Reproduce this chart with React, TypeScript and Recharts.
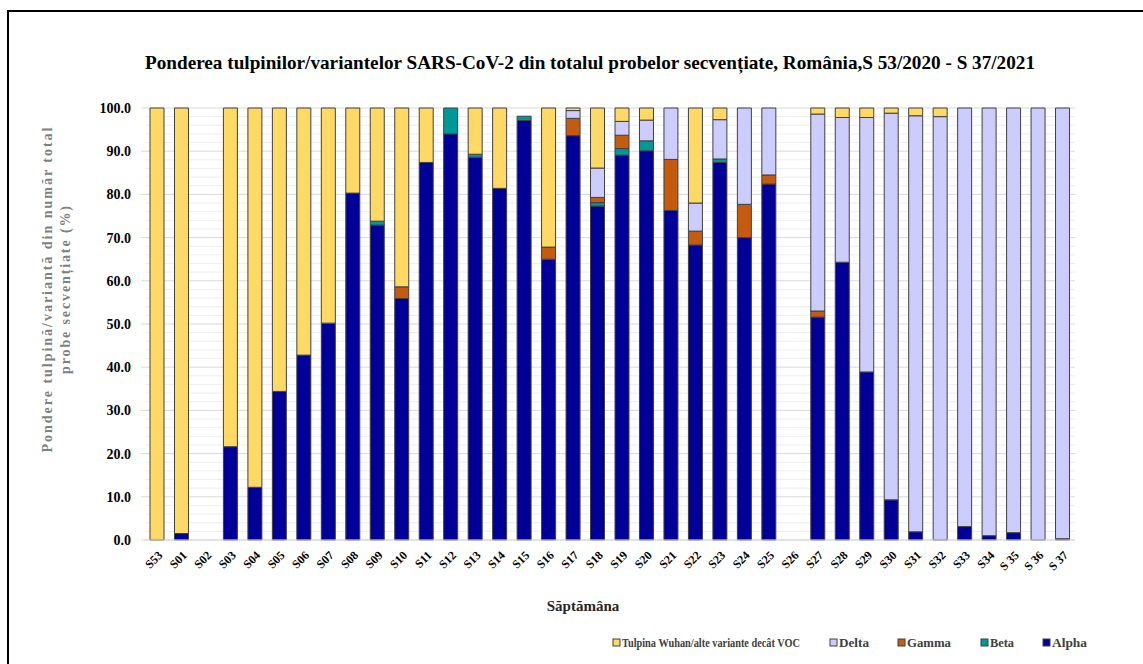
import React from 'react';
import { BarChart, Bar, XAxis, YAxis, CartesianGrid } from 'recharts';

const weeks = [
  'S53', 'S01', 'S02', 'S03', 'S04', 'S05', 'S06', 'S07', 'S08', 'S09',
  'S10', 'S11', 'S12', 'S13', 'S14', 'S15', 'S16', 'S17', 'S18', 'S19',
  'S20', 'S21', 'S22', 'S23', 'S24', 'S25', 'S26', 'S27', 'S28', 'S29',
  'S30', 'S31', 'S32', 'S33', 'S34', 'S 35', 'S 36', 'S 37',
];

const alpha = [
  0, 1.5, 0, 21.6, 12.2, 34.4, 42.8, 50.2, 80.3, 72.9,
  55.9, 87.4, 94.0, 88.6, 81.4, 97.1, 65.0, 93.6, 77.3, 89.1,
  90.1, 76.3, 68.3, 87.4, 70.0, 82.4, 0, 51.6, 64.3, 38.9,
  9.3, 1.9, 0, 3.1, 1.0, 1.7, 0, 0.3,
];
const beta = [
  0, 0, 0, 0, 0, 0, 0, 0, 0, 0.9,
  0, 0, 6.0, 0.7, 0, 1.0, 0, 0, 0.8, 1.5,
  2.3, 0, 0, 0.8, 0, 0, 0, 0, 0, 0,
  0, 0, 0, 0, 0, 0, 0, 0,
];
const gamma = [
  0, 0, 0, 0, 0, 0, 0, 0, 0, 0,
  2.7, 0, 0, 0, 0, 0, 2.8, 4.0, 1.2, 3.1,
  0, 11.8, 3.2, 0, 7.7, 2.1, 0, 1.4, 0, 0,
  0, 0, 0, 0, 0, 0, 0, 0,
];
const delta = [
  0, 0, 0, 0, 0, 0, 0, 0, 0, 0,
  0, 0, 0, 0, 0, 0, 0, 1.8, 6.8, 3.2,
  4.8, 11.9, 6.5, 9.1, 22.3, 15.5, 0, 45.6, 33.5, 58.9,
  89.5, 96.3, 98.0, 96.9, 99.0, 98.3, 100, 99.7,
];
const wuhan = [
  100, 98.5, 0, 78.4, 87.8, 65.6, 57.2, 49.8, 19.7, 26.2,
  41.4, 12.6, 0, 10.7, 18.6, 0, 32.2, 0.6, 13.9, 3.1,
  2.8, 0, 22.0, 2.7, 0, 0, 0, 1.4, 2.2, 2.2,
  1.2, 1.8, 2.0, 0, 0, 0, 0, 0,
];

const yTicks = [0, 10, 20, 30, 40, 50, 60, 70, 80, 90, 100];
const minorTicks = [
  2, 4, 6, 8, 12, 14, 16, 18, 22, 24, 26, 28, 32, 34, 36, 38, 42, 44, 46, 48,
  52, 54, 56, 58, 62, 64, 66, 68, 72, 74, 76, 78, 82, 84, 86, 88, 92, 94, 96, 98,
];

const series = [
  { key: 'alpha', name: 'Alpha', color: '#000099' },
  { key: 'beta', name: 'Beta', color: '#009999' },
  { key: 'gamma', name: 'Gamma', color: '#C55A11' },
  { key: 'delta', name: 'Delta', color: '#CCCCFF' },
  { key: 'wuhan', name: 'Tulpina Wuhan/alte variante decât VOC', color: '#FFD966' },
];

const data = weeks.map((week, i) => ({
  week,
  alpha: alpha[i],
  beta: beta[i],
  gamma: gamma[i],
  delta: delta[i],
  wuhan: wuhan[i],
}));

const serif = '"Liberation Serif", "Times New Roman", serif';

// legend, in the order the reference shows it (square x, text width)
const legendItems = [
  { key: 'wuhan', left: 613, textWidth: 178 },
  { key: 'delta', left: 830, textWidth: 30 },
  { key: 'gamma', left: 898, textWidth: 44 },
  { key: 'beta', left: 981, textWidth: 24 },
  { key: 'alpha', left: 1043, textWidth: 35 },
];

// week labels, slanted up to the right like the original
function WeekTick(props: any) {
  const { x, y, payload } = props;
  const ax = x + 6;
  const ay = y + 16;
  return (
    <text
      x={ax}
      y={ay}
      textAnchor="end"
      fontFamily={serif}
      fontWeight="bold"
      fontSize={12}
      fill="#000"
      transform={`rotate(-45 ${ax} ${ay})`}
      style={{ transform: 'rotate(-45deg)', transformOrigin: `${ax}px ${ay}px`, transformBox: 'view-box' }}
    >
      {payload.value}
    </text>
  );
}

const gridFrom = (values: number[]) => (args: any) => {
  const { yAxis, offset } = args;
  if (yAxis && typeof yAxis.scale === 'function') {
    return values.map((v) => yAxis.scale(v));
  }
  return values.map((v) => offset.top + offset.height * (1 - v / 100));
};

export default function App() {
  return (
    <div style={{ position: 'absolute', left: 0, top: 0, width: 1143, height: 664, overflow: 'hidden', background: '#fff' }}>
      <div
        style={{
          position: 'absolute',
          left: 7,
          top: 10,
          width: 1300,
          height: 800,
          border: '2px solid #000',
        }}
      />
      <BarChart
        width={1143}
        height={664}
        data={data}
        margin={{ top: 108, right: 68, left: 0, bottom: 64 }}
        barSize={14}
        style={{ position: 'absolute', left: 0, top: 0 }}
      >
        <CartesianGrid
          vertical={false}
          stroke="#eeeeee"
          horizontalCoordinatesGenerator={gridFrom(minorTicks)}
        />
        <CartesianGrid
          vertical={false}
          stroke="#d9d9d9"
          horizontalCoordinatesGenerator={gridFrom(yTicks)}
        />
        <XAxis
          dataKey="week"
          interval={0}
          height={60}
          tickLine={false}
          tickSize={0}
          tickMargin={0}
          axisLine={{ stroke: '#d9d9d9' }}
          tick={WeekTick}
        />
        <YAxis
          width={145}
          domain={[0, 100]}
          ticks={yTicks}
          interval={0}
          tickFormatter={(v: number) => v.toFixed(1)}
          axisLine={false}
          tickLine={{ stroke: '#d9d9d9' }}
          tickSize={4}
          tickMargin={10}
          tick={{ fontFamily: serif, fontWeight: 'bold', fontSize: 14, fill: '#000' }}
        />
        {series.map((s) => (
          <Bar
            key={s.key}
            dataKey={s.key}
            name={s.name}
            stackId="a"
            fill={s.color}
            stroke="#404040"
            strokeWidth={1}
            isAnimationActive={false}
          />
        ))}
      </BarChart>
      <svg width={1143} height={664} style={{ position: 'absolute', left: 0, top: 0, pointerEvents: 'none' }}>
        <text
          x={145}
          y={69}
          fontFamily={serif}
          fontWeight="bold"
          fontSize={19}
          textLength={890}
          lengthAdjust="spacingAndGlyphs"
          fill="#000"
        >
          Ponderea tulpinilor/variantelor SARS-CoV-2 din totalul probelor secvențiate, România,S 53/2020 - S 37/2021
        </text>
        <g transform="translate(52 290) rotate(-90)">
          <text
            x={0}
            y={0}
            textAnchor="middle"
            fontFamily={serif}
            fontWeight="bold"
            fontSize={14}
            fill="#7f7f7f"
            textLength={325}
            lengthAdjust="spacing"
          >
            Pondere tulpină/variantă din număr total
          </text>
          <text
            x={0}
            y={18}
            textAnchor="middle"
            fontFamily={serif}
            fontWeight="bold"
            fontSize={14}
            fill="#7f7f7f"
            textLength={168}
            lengthAdjust="spacing"
          >
            probe secvențiate (%)
          </text>
        </g>
        <text
          x={583}
          y={611}
          textAnchor="middle"
          fontFamily={serif}
          fontWeight="bold"
          fontSize={15}
          fill="#262626"
        >
          Săptămâna
        </text>
        {legendItems.map((item) => {
          const s = series.find((x) => x.key === item.key)!;
          return (
            <g key={item.key}>
              <rect x={item.left} y={639} width={7} height={7} fill={s.color} stroke="#404040" strokeWidth={1} />
              <text
                x={item.left + 9}
                y={647}
                fontFamily={serif}
                fontWeight="bold"
                fontSize={12}
                fill="#404040"
                textLength={item.textWidth}
                lengthAdjust="spacingAndGlyphs"
              >
                {s.name}
              </text>
            </g>
          );
        })}
      </svg>
    </div>
  );
}
